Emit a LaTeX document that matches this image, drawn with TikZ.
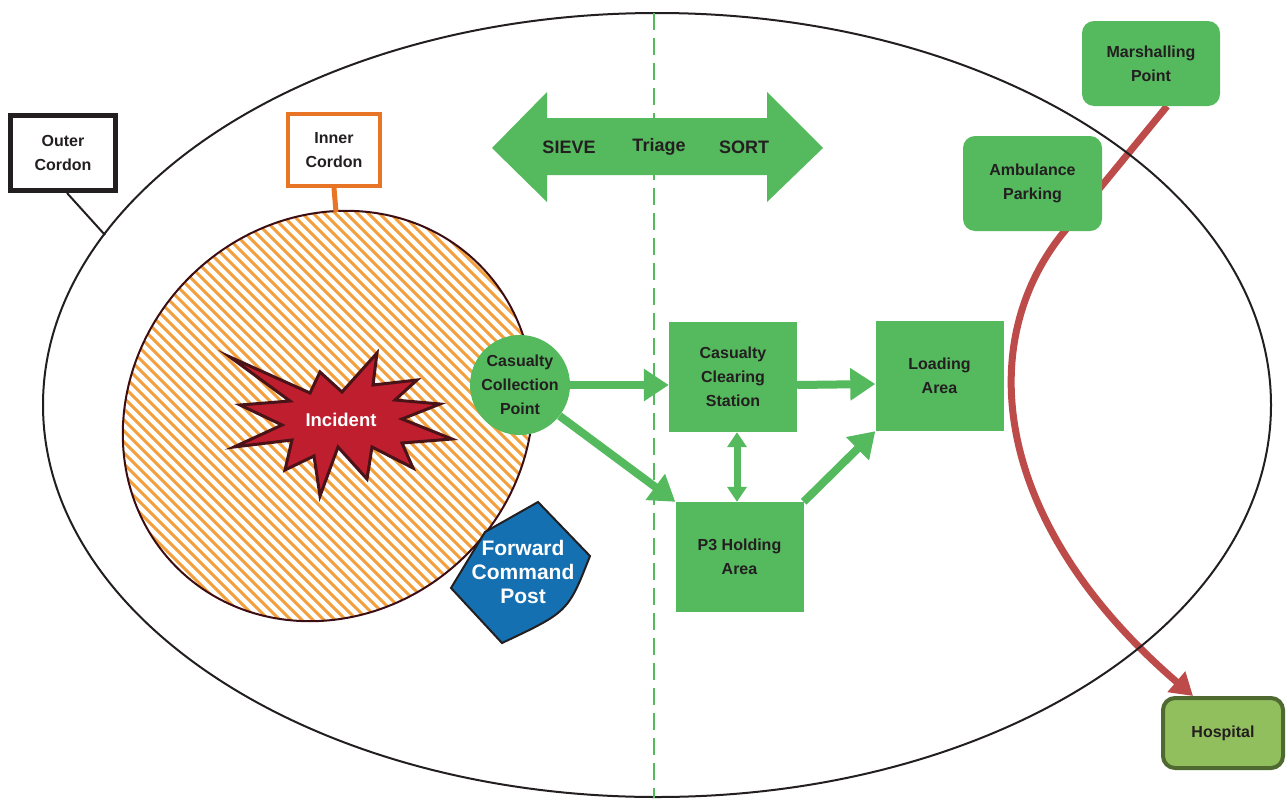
\documentclass[tikz,border=0pt]{standalone}
\usepackage{fontspec}
\setmainfont{Liberation Sans}
\usetikzlibrary{arrows.meta,backgrounds}
\definecolor{txtdark}{HTML}{231F20}
\definecolor{triagegreen}{HTML}{55B95E}
\definecolor{cordonorange}{HTML}{E87425}
\definecolor{hatchorange}{HTML}{F2A03D}
\definecolor{zoneborder}{HTML}{3C0D12}
\definecolor{starred}{HTML}{BE1E2D}
\definecolor{starborder}{HTML}{4A1317}
\definecolor{fcpblue}{HTML}{1570B1}
\definecolor{routered}{HTML}{BC4B49}
\definecolor{hospgreen}{HTML}{92BF5E}
\definecolor{hospborder}{HTML}{4E6A31}

\begin{document}
\begin{tikzpicture}[x=1pt,y=-1pt,
  box/.style={fill=triagegreen,text=txtdark,align=center,inner sep=0pt,
    font=\bfseries\fontsize{16}{24}\selectfont},
  flow/.style={draw=triagegreen,line width=8pt,-{Triangle[length=25pt,width=31pt]}},
  route/.style={draw=routered,line width=7pt,-{Triangle[length=22pt,width=26pt]}},
  cordonlbl/.style={fill=white,text=txtdark,align=center,inner sep=0pt,
    font=\bfseries\fontsize{16}{24}\selectfont},
  triagetxt/.style={text=txtdark,font=\bfseries\fontsize{18}{22}\selectfont},
  zone/.style={shift={(328,416)},rotate=45}]
\useasboundingbox (0,0) rectangle (1287,798);

\draw[txtdark,line width=2pt] (657,405) ellipse [x radius=614,y radius=392];
\coordinate (outerpt) at (105,235);
\draw[triagegreen,line width=2.5pt,dash pattern=on 17pt off 8pt] (654,13) -- (654,798);

\begin{scope}
\clip[zone] (0,0) ellipse [x radius=214,y radius=196];
\foreach \d in {-460,-449,...,460}
  \draw[hatchorange,line width=3pt] (\d+100,189) -- (\d+560,649);
\end{scope}
\draw[zone,zoneborder,line width=2pt] (0,0) ellipse [x radius=214,y radius=196];
\coordinate (zonetop) at (336,212);

\node (outerlbl) [cordonlbl,draw=txtdark,line width=5pt,minimum width=105pt,minimum height=75pt] at (63,153) {Outer\\Cordon};
\draw[txtdark,line width=2pt] ([xshift=4pt]outerlbl.south) -- (outerpt);
\node (innerlbl) [cordonlbl,draw=cordonorange,line width=4pt,minimum width=92pt,minimum height=72pt] at (334,150) {Inner\\Cordon};
\draw[cordonorange,line width=5pt] (innerlbl.south) -- (zonetop);

\filldraw[fill=starred,draw=starborder,line width=3pt,miter limit=20]
  (230,357) -- (310,393) -- (320,372) -- (342,392) -- (377,353) -- (373,385)
  -- (417,380) -- (395,400) -- (440,404) -- (402,419) -- (452,439) -- (402,443)
  -- (413,468) -- (372,447) -- (367,479) -- (338,447) -- (320,496) -- (314,456)
  -- (285,470) -- (292,440) -- (234,447) -- (282,425) -- (240,405) -- (290,401) -- cycle;
\node (incident) [text=white,font=\bfseries\fontsize{18.5}{22}\selectfont] at (341,420) {Incident};

\filldraw[fill=fcpblue,draw=txtdark,line width=2pt]
  (538,502) -- (590,556) .. controls (568,612) .. (502,643) -- (451,588) -- (485,532) -- cycle;
\node (fcp) [text=white,align=center,font=\bfseries\fontsize{21}{24}\selectfont] at (523,572) {Forward\\Command\\Post};

\fill[triagegreen] (492,148) -- (547,92) -- (547,118) -- (767,118) -- (767,92) -- (823,148)
  -- (767,202) -- (767,175) -- (547,175) -- (547,202) -- cycle;
\node (sieve) [triagetxt] at (569,147) {SIEVE};
\node (triage) [triagetxt] at (659,147) {Triage};
\node (sort) [triagetxt] at (744,147) {SORT};

\node (ccp) [box,circle,minimum size=100pt] at (520,385) {Casualty\\Collection\\Point};
\node (ccs) [box,minimum width=128pt,minimum height=110pt] at (733,377) {Casualty\\Clearing\\Station};
\node (loading) [box,minimum width=128pt,minimum height=110pt] at (939.5,376) {Loading\\Area};
\node (p3) [box,minimum width=128pt,minimum height=110pt] at (739.5,557) {P3 Holding\\Area};
\node (marshal) [box,rounded corners=12pt,minimum width=138pt,minimum height=85pt] at (1151,63.5) {Marshalling\\Point};
\node (amb) [box,rounded corners=12pt,minimum width=139pt,minimum height=95pt] at (1032.5,183.5) {Ambulance\\Parking};
\node (hospital) [box,fill=hospgreen,draw=hospborder,line width=4pt,rounded corners=12pt,minimum width=120pt,minimum height=70pt] at (1223,733) {Hospital};

\draw[flow] (ccp.east) -- (ccp.east -| ccs.west);
\draw[flow] ([yshift=-8pt]ccs.east) -- ([yshift=-8pt]loading.west);
\draw[flow] (ccp.-38) -- (p3.north west);
\draw[flow,line width=7pt,{Triangle[length=15pt,width=19pt]}-{Triangle[length=15pt,width=19pt]}]
  ([xshift=4pt]ccs.south) -- ([xshift=4pt]ccs.south |- p3.north);
\draw[flow] (p3.north east) -- (loading.south west);

\begin{pgfonlayer}{background}
\draw[route] ([xshift=16pt]marshal.south) -- ([xshift=32pt]amb.south)
  .. controls +(-92,112) and +(-200,-172) .. ([xshift=-30pt]hospital.north);
\end{pgfonlayer}
\end{tikzpicture}
\end{document}
